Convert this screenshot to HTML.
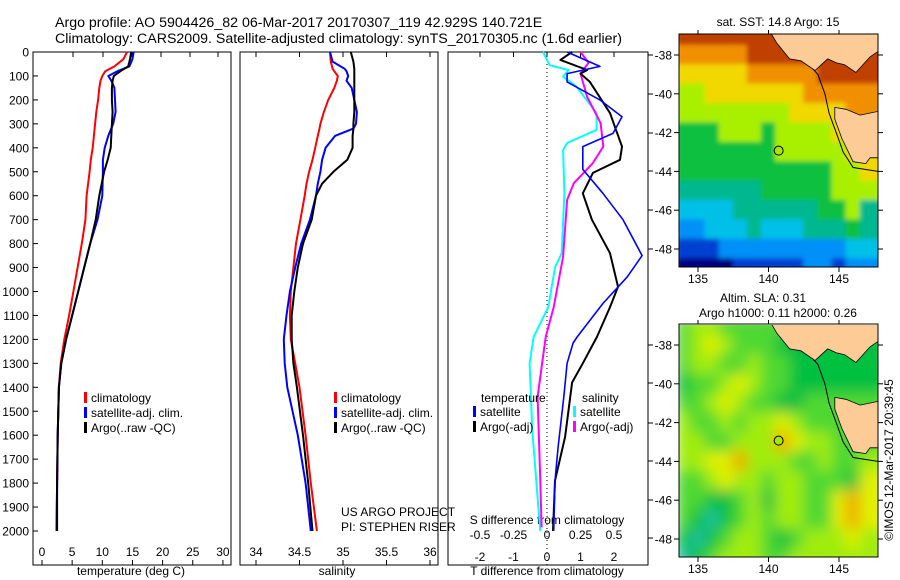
<!DOCTYPE html>
<html><head><meta charset="utf-8"><style>
html,body{margin:0;padding:0;background:#fff;}
svg{display:block;font-family:"Liberation Sans",sans-serif;}
</style></head><body>
<svg id="c" width="900" height="580" viewBox="0 0 900 580" xmlns="http://www.w3.org/2000/svg">
<defs>
<filter id="b1" x="-5%" y="-5%" width="110%" height="110%"><feGaussianBlur stdDeviation="2.5"/></filter>
<filter id="b2" x="-5%" y="-5%" width="110%" height="110%"><feGaussianBlur stdDeviation="7"/></filter>
<clipPath id="cm1"><rect x="679" y="34" width="199" height="233"/></clipPath>
<clipPath id="cm2"><rect x="679" y="325" width="199" height="232"/></clipPath>
</defs>
<text x="55" y="27" font-size="14.2">Argo profile: AO 5904426_82 06-Mar-2017 20170307_119 42.929S 140.721E</text>
<text x="55" y="43" font-size="14.2">Climatology: CARS2009. Satellite-adjusted climatology: synTS_20170305.nc (1.6d earlier)</text>
<g id="g"></g>
</svg>
<script>
// ---- profile data (depth in m) ----
const tDepth = [0,30,60,80,100,120,150,200,250,300,350,400,450,500,600,700,800,900,1000,1100,1200,1300,1400,1600,1800,2000];
const tArgo  = [14.8,14.6,14.3,13.0,11.9,11.7,11.6,11.6,11.7,11.6,11.5,11.4,10.9,10.3,9.5,8.9,8.0,7.0,6.0,5.0,4.0,3.2,2.8,2.6,2.5,2.5];
const tSat   = [15.2,15.0,14.5,12.5,11.0,11.5,12.0,12.1,12.2,11.8,11.0,10.4,10.1,10.1,10.0,9.2,8.0,7.0,6.0,5.0,4.0,3.2,2.8,2.6,2.5,2.4];
const tClim  = [14.1,13.5,12.0,10.5,10.0,9.7,9.5,9.3,9.0,8.8,8.6,8.4,8.1,7.9,7.4,7.2,6.6,5.9,5.2,4.5,3.7,3.1,2.8,2.6,2.5,2.4];
const sDepth = [0,40,70,80,100,120,150,200,250,300,320,350,400,450,500,550,600,700,800,900,1000,1100,1200,1300,1400,1600,1800,2000];
const sArgo  = [35.09,35.12,35.13,35.13,35.13,35.13,35.13,35.13,35.13,35.12,35.12,35.11,35.11,35.05,34.89,34.76,34.69,34.64,34.54,34.48,34.44,34.41,34.41,34.43,34.47,34.54,34.60,34.65];
const sSat   = [34.85,34.88,35.02,35.04,35.06,35.04,35.10,35.13,35.16,35.15,35.12,34.91,34.80,34.76,34.74,34.71,34.69,34.62,34.52,34.45,34.39,34.35,34.32,34.33,34.36,34.48,34.57,34.63];
const sClim  = [34.85,34.86,34.88,34.9,34.94,34.93,34.9,34.83,34.78,34.74,34.73,34.71,34.68,34.65,34.61,34.58,34.56,34.51,34.46,34.43,34.40,34.39,34.40,34.45,34.50,34.57,34.63,34.70];
const dtSatDepth = [0,60,90,125,200,270,340,395,490,590,700,850,940,1050,1190,1215,1300,1440,1650,1790,2000];
const dtSat      = [0.6,1.58,0.6,0.6,1.58,2.24,1.97,1.07,1.07,1.67,2.27,2.84,2.39,1.67,0.9,0.78,0.6,0.5,0.33,0.24,0.2];
const dtArgoDepth = [0,33,75,90,125,255,395,450,505,590,700,840,980,1065,1190,1300,1380,1607,1790,2000];
const dtArgo      = [0.75,0.4,1.2,1.0,1.28,1.88,2.24,2.18,1.37,1.07,1.34,1.88,2.12,1.88,1.49,1.07,0.75,0.54,0.24,0.18];
const dsSatDepth = [0,55,75,103,145,255,325,380,410,590,840,900,1065,1190,1300,1580,1860,2000];
const dsSat      = [-0.03,0.02,0.16,0.12,0.22,0.37,0.37,0.15,0.12,0.13,0.11,0.06,0.01,-0.1,-0.13,-0.11,-0.07,-0.05];
const dsArgoDepth = [0,45,90,188,297,395,465,548,618,855,1065,1190,1440,1790,1985];
const dsArgo      = [0.25,0.31,0.25,0.3,0.4,0.42,0.34,0.2,0.15,0.12,0.05,-0.01,-0.07,-0.05,-0.04];
const depthTicks = [0,100,200,300,400,500,600,700,800,900,1000,1100,1200,1300,1400,1500,1600,1700,1800,1900,2000];
const tTicks = [0,5,10,15,20,25,30];
const sTicks = [34,34.5,35,35.5,36];
const sTickLabels = ['34','34.5','35','35.5','36'];
const dTTicks = [-2,-1,0,1,2];
const dSTicks = [-0.5,-0.25,0,0.25,0.5];
const dSTickLabels = ['-0.5','-0.25','0','0.25','0.5'];
// ---- map data ----
const mapLons = [134,135,136,137,138,139,140,141,142,143,144,145,146,147,148];
const mapLats = [-37,-38,-39,-40,-41,-42,-43,-44,-45,-46,-47,-48,-49];
const sstGrid = [
[9,9,9,9,9,9,9,9,9,9,9,9,9,9,9],
[8,8,8,8,8,9,9,9,9,9,9,9,9,9,9],
[7,7,7,7,7,8,8,8,8,8,9,9,9,9,9],
[6,6,7,7,7,7,7,7,7,8,8,8,8,8,8],
[6,6,6,6,6,6,6,6,7,7,7,7,8,8,8],
[5,5,5,6,6,6,5,6,6,6,6,7,7,7,7],
[5,5,5,5,5,5,5,6,6,6,6,6,7,7,7],
[5,5,5,5,5,5,5,5,5,5,5,6,6,7,7],
[4,4,4,4,4,4,5,5,5,5,5,6,6,6,6],
[3,3,3,3,4,4,4,4,4,4,5,5,6,4,4],
[2,2,3,3,3,4,3,3,3,4,4,4,5,4,4],
[1,1,1,2,2,2,2,2,2,2,2,2,3,3,3],
[0,0,0,0,1,1,1,1,1,2,2,1,2,2,2]];
const slaGrid = [
[2,3,3,2,2,2,2,2,2,2,2,2,2,2,2],
[2,3,4,3,2,2,2,1,1,1,1,1,1,1,1],
[2,3,3,2,2,3,2,2,1,1,1,1,1,1,1],
[1,2,2,3,4,3,2,2,1,1,1,1,1,1,1],
[2,2,3,4,3,2,2,1,1,2,2,2,2,2,2],
[3,2,2,3,2,3,3,4,3,2,2,2,2,2,2],
[3,3,2,2,3,3,3,5,4,3,3,2,2,2,2],
[3,3,4,4,5,3,3,3,2,2,3,2,2,3,3],
[2,2,3,4,3,3,2,3,3,2,2,2,1,4,4],
[2,2,1,1,2,3,1,3,3,2,2,4,5,4,4],
[2,1,0,1,2,3,2,3,3,2,2,4,5,4,4],
[1,0,1,2,3,3,2,1,2,3,3,3,4,3,3],
[0,1,2,3,3,3,2,2,3,3,3,3,3,3,3]];
const sstPalette = ['#000080','#0040d0','#0090f8','#00c0e8','#00b890','#10c040','#a8f000','#f0d800','#f09000','#c04000'];
const slaPalette = ['#20c0a0','#00c040','#50d830','#a0ec10','#e0f000','#f0a800'];
const landVic = [[140.2,-36.9],[140.6,-37.4],[141.5,-38.2],[142.3,-38.3],[143.3,-38.8],[144.2,-38.2],[144.8,-38.4],[145.4,-38.5],[146.2,-38.9],[147.2,-38.1],[147.8,-37.8],[147.8,-36.9]];
const landTas = [[144.7,-40.7],[145.5,-40.8],[146.5,-41.1],[147.8,-40.9],[147.8,-43.3],[147.2,-43.3],[146.9,-43.6],[146.0,-43.5],[145.2,-42.3],[144.7,-41.3]];
const isobath = [[140.3,-36.9],[141,-37.6],[142.5,-38.2],[143.5,-39],[144,-40],[144.3,-41],[144.8,-42],[145.3,-43],[146,-43.8],[147.8,-44.0]];
const argoPos = [140.72,-42.93];

const NS='http://www.w3.org/2000/svg';
const G=document.getElementById('g');
function el(tag,attrs,parent){const e=document.createElementNS(NS,tag);for(const k in attrs)e.setAttribute(k,attrs[k]);(parent||G).appendChild(e);return e;}
function txt(x,y,s,size,anchor,parent){const t=el('text',{x:x,y:y,'font-size':size||12,'text-anchor':anchor||'start'},parent);t.textContent=s;return t;}
const yD=d=>52+d*0.2395;
const xT=v=>42+v*6.03;
const xS=v=>256+(v-34)*87;
const xDT=v=>547+v*33.5;
const xDS=v=>547+v*134;
function line(xs,ds,xf,color,w,name){
  const pts=xs.map((v,i)=>xf(v).toFixed(1)+','+yD(ds[i]).toFixed(1)).join(' ');
  const p=el('polyline',{points:pts,fill:'none',stroke:color,'stroke-width':w,'stroke-linejoin':'round'});
  
  
}
const panels=[[33,231,'temperature-panel'],[240,438,'salinity-panel'],[448,648,'difference-panel']];
panels.forEach(p=>{const r=el('rect',{x:p[0],y:52,width:p[1]-p[0],height:513,fill:'none',stroke:'#000','stroke-width':1});
  
  });
depthTicks.forEach(d=>{el('line',{x1:33,x2:38,y1:yD(d),y2:yD(d),stroke:'#000'});
  const t=txt(29,yD(d)+4.5,String(d),12,'end');
  
  });
tTicks.forEach(v=>{el('line',{x1:xT(v),x2:xT(v),y1:565,y2:560,stroke:'#000'});
  const t=txt(xT(v),556,String(v),12,'middle');
  
  });
[73,103,132,161,190,218].forEach(x=>el('line',{x1:x,x2:x,y1:52,y2:57,stroke:'#000'}));
let t=txt(131,575,'temperature (deg C)',12,'middle');
sTicks.forEach((v,i)=>{el('line',{x1:xS(v),x2:xS(v),y1:565,y2:560,stroke:'#000'});el('line',{x1:xS(v),x2:xS(v),y1:52,y2:57,stroke:'#000'});
  const t=txt(xS(v),556,sTickLabels[i],12,'middle');
  
  });
t=txt(337,575,'salinity',12,'middle');
dTTicks.forEach(v=>{const t=txt(xDT(v),561,v<0?'-'+Math.abs(v):String(v),12,'middle');
  
  });
dSTicks.forEach((v,i)=>{el('line',{x1:xDS(v),x2:xDS(v),y1:52,y2:57,stroke:'#000'});
  const t=txt(xDS(v),539,dSTickLabels[i],12,'middle');
  
  });
t=txt(547,524,'S difference from climatology',12,'middle');
t=txt(547,575,'T difference from climatology',12,'middle');
[55,94,133,171,210,249,345,383,423,461,500,538].forEach(y=>el('line',{x1:648,x2:653,y1:y,y2:y,stroke:'#000'}));
el('line',{x1:547,x2:547,y1:52,y2:565,stroke:'#000','stroke-dasharray':'1,3'});
line(tClim,tDepth,xT,'#ff0000',2,'temperature-climatology-line');
line(tSat,tDepth,xT,'#0000ff',2,'temperature-satellite-line');
line(tArgo,tDepth,xT,'#000000',2,'temperature-argo-line');
line(sClim,sDepth,xS,'#ff0000',2,'salinity-climatology-line');
line(sSat,sDepth,xS,'#0000ff',2,'salinity-satellite-line');
line(sArgo,sDepth,xS,'#000000',2,'salinity-argo-line');
line(dsSat,dsSatDepth,xDS,'#00ffff',2,'s-diff-satellite-line');
line(dsArgo,dsArgoDepth,xDS,'#ff00ff',2,'s-diff-argo-line');
line(dtArgo,dtArgoDepth,xDT,'#000000',2,'t-diff-argo-line');
line(dtSat,dtSatDepth,xDT,'#0000ff',1.6,'t-diff-satellite-line');
function leg(x,y,color,label,name){const r=el('rect',{x:x,y:y-10,width:3,height:11,fill:color});
  
  const t=txt(x+7,y,label,12);}
leg(84,402,'#ff0000','climatology','legend-climatology');
leg(84,417,'#0000ff','satellite-adj. clim.','legend-satellite');
leg(84,432,'#000000','Argo(..raw -QC)','legend-argo');
leg(334,402,'#ff0000','climatology','legend-climatology-2');
leg(334,417,'#0000ff','satellite-adj. clim.','legend-satellite-2');
leg(334,432,'#000000','Argo(..raw -QC)','legend-argo-2');
t=txt(481,402,'temperature',12);
t=txt(582,402,'salinity',12);
leg(473,416,'#0000ff','satellite','legend-t-satellite');
leg(473,431,'#000000','Argo(-adj)','legend-t-argo');
leg(573,416,'#00ffff','satellite','legend-s-satellite');
leg(573,431,'#ff00ff','Argo(-adj)','legend-s-argo');
t=txt(341,516,'US ARGO PROJECT',12);
t=txt(341,531,'PI: STEPHEN RISER',12);
function drawMap(top,grid,pal,filt,clip,name){
  const mx=lon=>698+(lon-135)*14.1, my=lat=>top+21+(-38-lat)*19.4;
  const g=el('g',{'clip-path':'url(#'+clip+')'});
  
  
  const h=el('g',{filter:'url(#'+filt+')'},g);
  mapLats.forEach((lat,r)=>mapLons.forEach((lon,c)=>{
    const cell=el('rect',{x:mx(lon-0.5)-0.5,y:my(lat+0.5)-0.5,width:15.1,height:20.4,fill:pal[grid[r][c]]},h);
    
    
  }));
  const pp=arr=>arr.map(p=>mx(p[0]).toFixed(1)+','+my(p[1]).toFixed(1)).join(' ');
  el('polyline',{points:pp(isobath),fill:'none',stroke:'#000','stroke-width':1},g);
  const v=el('polygon',{points:pp(landVic),fill:'#fccb96',stroke:'#000','stroke-width':0.8},g);
  
  const ts=el('polygon',{points:pp(landTas),fill:'#fccb96',stroke:'#000','stroke-width':0.8},g);
  
  const r=el('rect',{x:679,y:top,width:199,height:233,fill:'none',stroke:'#000'});
  
  const ci=el('circle',{cx:mx(argoPos[0]),cy:my(argoPos[1]),r:4.5,fill:'#a8e800',stroke:'#000','stroke-width':1});
  
  [-38,-40,-42,-44,-46,-48].forEach(lat=>{el('line',{x1:674,x2:679,y1:my(lat),y2:my(lat),stroke:'#000'});el('line',{x1:878,x2:883,y1:my(lat),y2:my(lat),stroke:'#000'});
    const t=txt(672,my(lat)+4.5,String(lat),12,'end');});
  [135,140,145].forEach(lon=>{el('line',{x1:mx(lon),x2:mx(lon),y1:top+233,y2:top+238,stroke:'#000'});el('line',{x1:mx(lon),x2:mx(lon),y1:top,y2:top-4,stroke:'#000'});
    const t=txt(mx(lon),top+249,String(lon),12,'middle');});
}
drawMap(34,sstGrid,sstPalette,'b1','cm1','sst-map');
drawMap(324,slaGrid,slaPalette,'b2','cm2','sla-map');
t=txt(778,26,'sat. SST: 14.8 Argo: 15',12,'middle');
t=txt(763,302,'Altim. SLA: 0.31',12,'middle');
t=txt(778,317,'Argo h1000: 0.11 h2000: 0.26',12,'middle');
t=txt(0,0,'\u00a9IMOS 12-Mar-2017 20:39:45',12,'middle');t.setAttribute('transform','translate(893,460) rotate(-90)');

</script>
</body></html>
